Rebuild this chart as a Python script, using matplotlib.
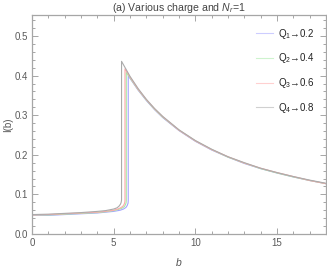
"""
Intensidad I(b) para varias cargas Q con N_r = 1 (panel a).
Valores leidos a mano de la figura original.
"""

import matplotlib.pyplot as plt
from matplotlib.ticker import MultipleLocator, FormatStrFormatter

plt.rcParams['font.family'] = ['Liberation Sans', 'DejaVu Sans']
plt.rcParams['mathtext.fontset'] = 'custom'
plt.rcParams['mathtext.it'] = 'Liberation Sans:italic'
plt.rcParams['mathtext.rm'] = 'Liberation Sans'

# --- Datos ---
labels = ['$\\mathregular{Q_1}$\u21920.2', '$\\mathregular{Q_2}$\u21920.4',
          '$\\mathregular{Q_3}$\u21920.6', '$\\mathregular{Q_4}$\u21920.8']
colors = ['#a4a4ff', '#a6eaa6', '#ffaaaa', '#ababab']

b_q1 = [0, 1, 2, 3, 4, 4.5, 5, 5.4, 5.6, 5.75, 5.83, 5.88, 5.89,
        5.89, 6, 6.5, 7, 7.5, 8, 9, 10, 11, 12, 13, 14, 15, 16, 17, 18]
i_q1 = [0.047, 0.047, 0.049, 0.051, 0.053, 0.055, 0.057, 0.060, 0.063, 0.067, 0.072, 0.078, 0.085,
        0.400, 0.393, 0.363, 0.337, 0.314, 0.294, 0.261, 0.234, 0.212, 0.194, 0.178, 0.165, 0.154, 0.144, 0.135, 0.127]

b_q2 = [0, 1, 2, 3, 4, 4.5, 5, 5.3, 5.5, 5.65, 5.72, 5.76, 5.77,
        5.77, 6, 6.5, 7, 7.5, 8, 9, 10, 11, 12, 13, 14, 15, 16, 17, 18]
i_q2 = [0.048, 0.048, 0.050, 0.052, 0.054, 0.056, 0.059, 0.062, 0.065, 0.069, 0.074, 0.079, 0.085,
        0.408, 0.394, 0.364, 0.338, 0.315, 0.295, 0.262, 0.235, 0.213, 0.194, 0.179, 0.165, 0.154, 0.144, 0.135, 0.127]

b_q3 = [0, 1, 2, 3, 4, 4.5, 5, 5.25, 5.42, 5.56, 5.64, 5.68, 5.69,
        5.69, 6, 6.5, 7, 7.5, 8, 9, 10, 11, 12, 13, 14, 15, 16, 17, 18]
i_q3 = [0.048, 0.049, 0.051, 0.053, 0.055, 0.057, 0.060, 0.063, 0.066, 0.070, 0.075, 0.080, 0.085,
        0.417, 0.396, 0.365, 0.339, 0.316, 0.296, 0.262, 0.235, 0.213, 0.195, 0.179, 0.166, 0.155, 0.145, 0.135, 0.127]

b_q4 = [0, 1, 2, 3, 4, 4.5, 5, 5.2, 5.32, 5.41, 5.45, 5.47, 5.48,
        5.48, 6, 6.5, 7, 7.5, 8, 9, 10, 11, 12, 13, 14, 15, 16, 17, 18]
i_q4 = [0.049, 0.050, 0.052, 0.054, 0.057, 0.059, 0.063, 0.066, 0.070, 0.075, 0.079, 0.083, 0.086,
        0.436, 0.398, 0.367, 0.340, 0.317, 0.297, 0.263, 0.236, 0.214, 0.195, 0.180, 0.166, 0.155, 0.145, 0.136, 0.128]

curves = [(b_q1, i_q1), (b_q2, i_q2), (b_q3, i_q3), (b_q4, i_q4)]

# --- Figura ---
fig = plt.figure(figsize=(3.27, 2.73), dpi=100)
ax = fig.add_axes([0.098, 0.143, 0.899, 0.802])

for (bb, ii), c, lab in zip(curves, colors, labels):
    ax.plot(bb, ii, color=c, lw=0.8, label=lab)

ax.set_xlim(0, 18)
ax.set_ylim(0, 0.553)

frame_col = '#a6a6a6'
for s in ax.spines.values():
    s.set_color(frame_col)
    s.set_linewidth(0.9)

ax.xaxis.set_major_locator(MultipleLocator(5))
ax.xaxis.set_minor_locator(MultipleLocator(1))
ax.yaxis.set_major_locator(MultipleLocator(0.1))
ax.yaxis.set_minor_locator(MultipleLocator(0.02))
ax.yaxis.set_major_formatter(FormatStrFormatter('%.1f'))
ax.tick_params(which='both', direction='in', top=True, right=True,
               color=frame_col, labelsize=7, labelcolor='#5a5a5a', width=0.7)
ax.tick_params(which='major', length=4, pad=3)
ax.tick_params(which='minor', length=2)

ax.set_title('(a) Various charge and $N_r$=1', fontsize=7.6, color='#444444', pad=1)
ax.set_xlabel('$b$', fontsize=7.5, color='#555555', labelpad=6)
ax.set_ylabel('I(b)', fontsize=7, color='#555555', labelpad=1)

leg = ax.legend(loc='upper right', frameon=False, fontsize=7, handlelength=1.7,
                handletextpad=0.5, labelspacing=1.1, borderaxespad=0.8)
for t in leg.get_texts():
    t.set_color('#222222')
for h in leg.legend_handles:
    h.set_alpha(0.55)

fig.savefig('out.png', dpi=100)
